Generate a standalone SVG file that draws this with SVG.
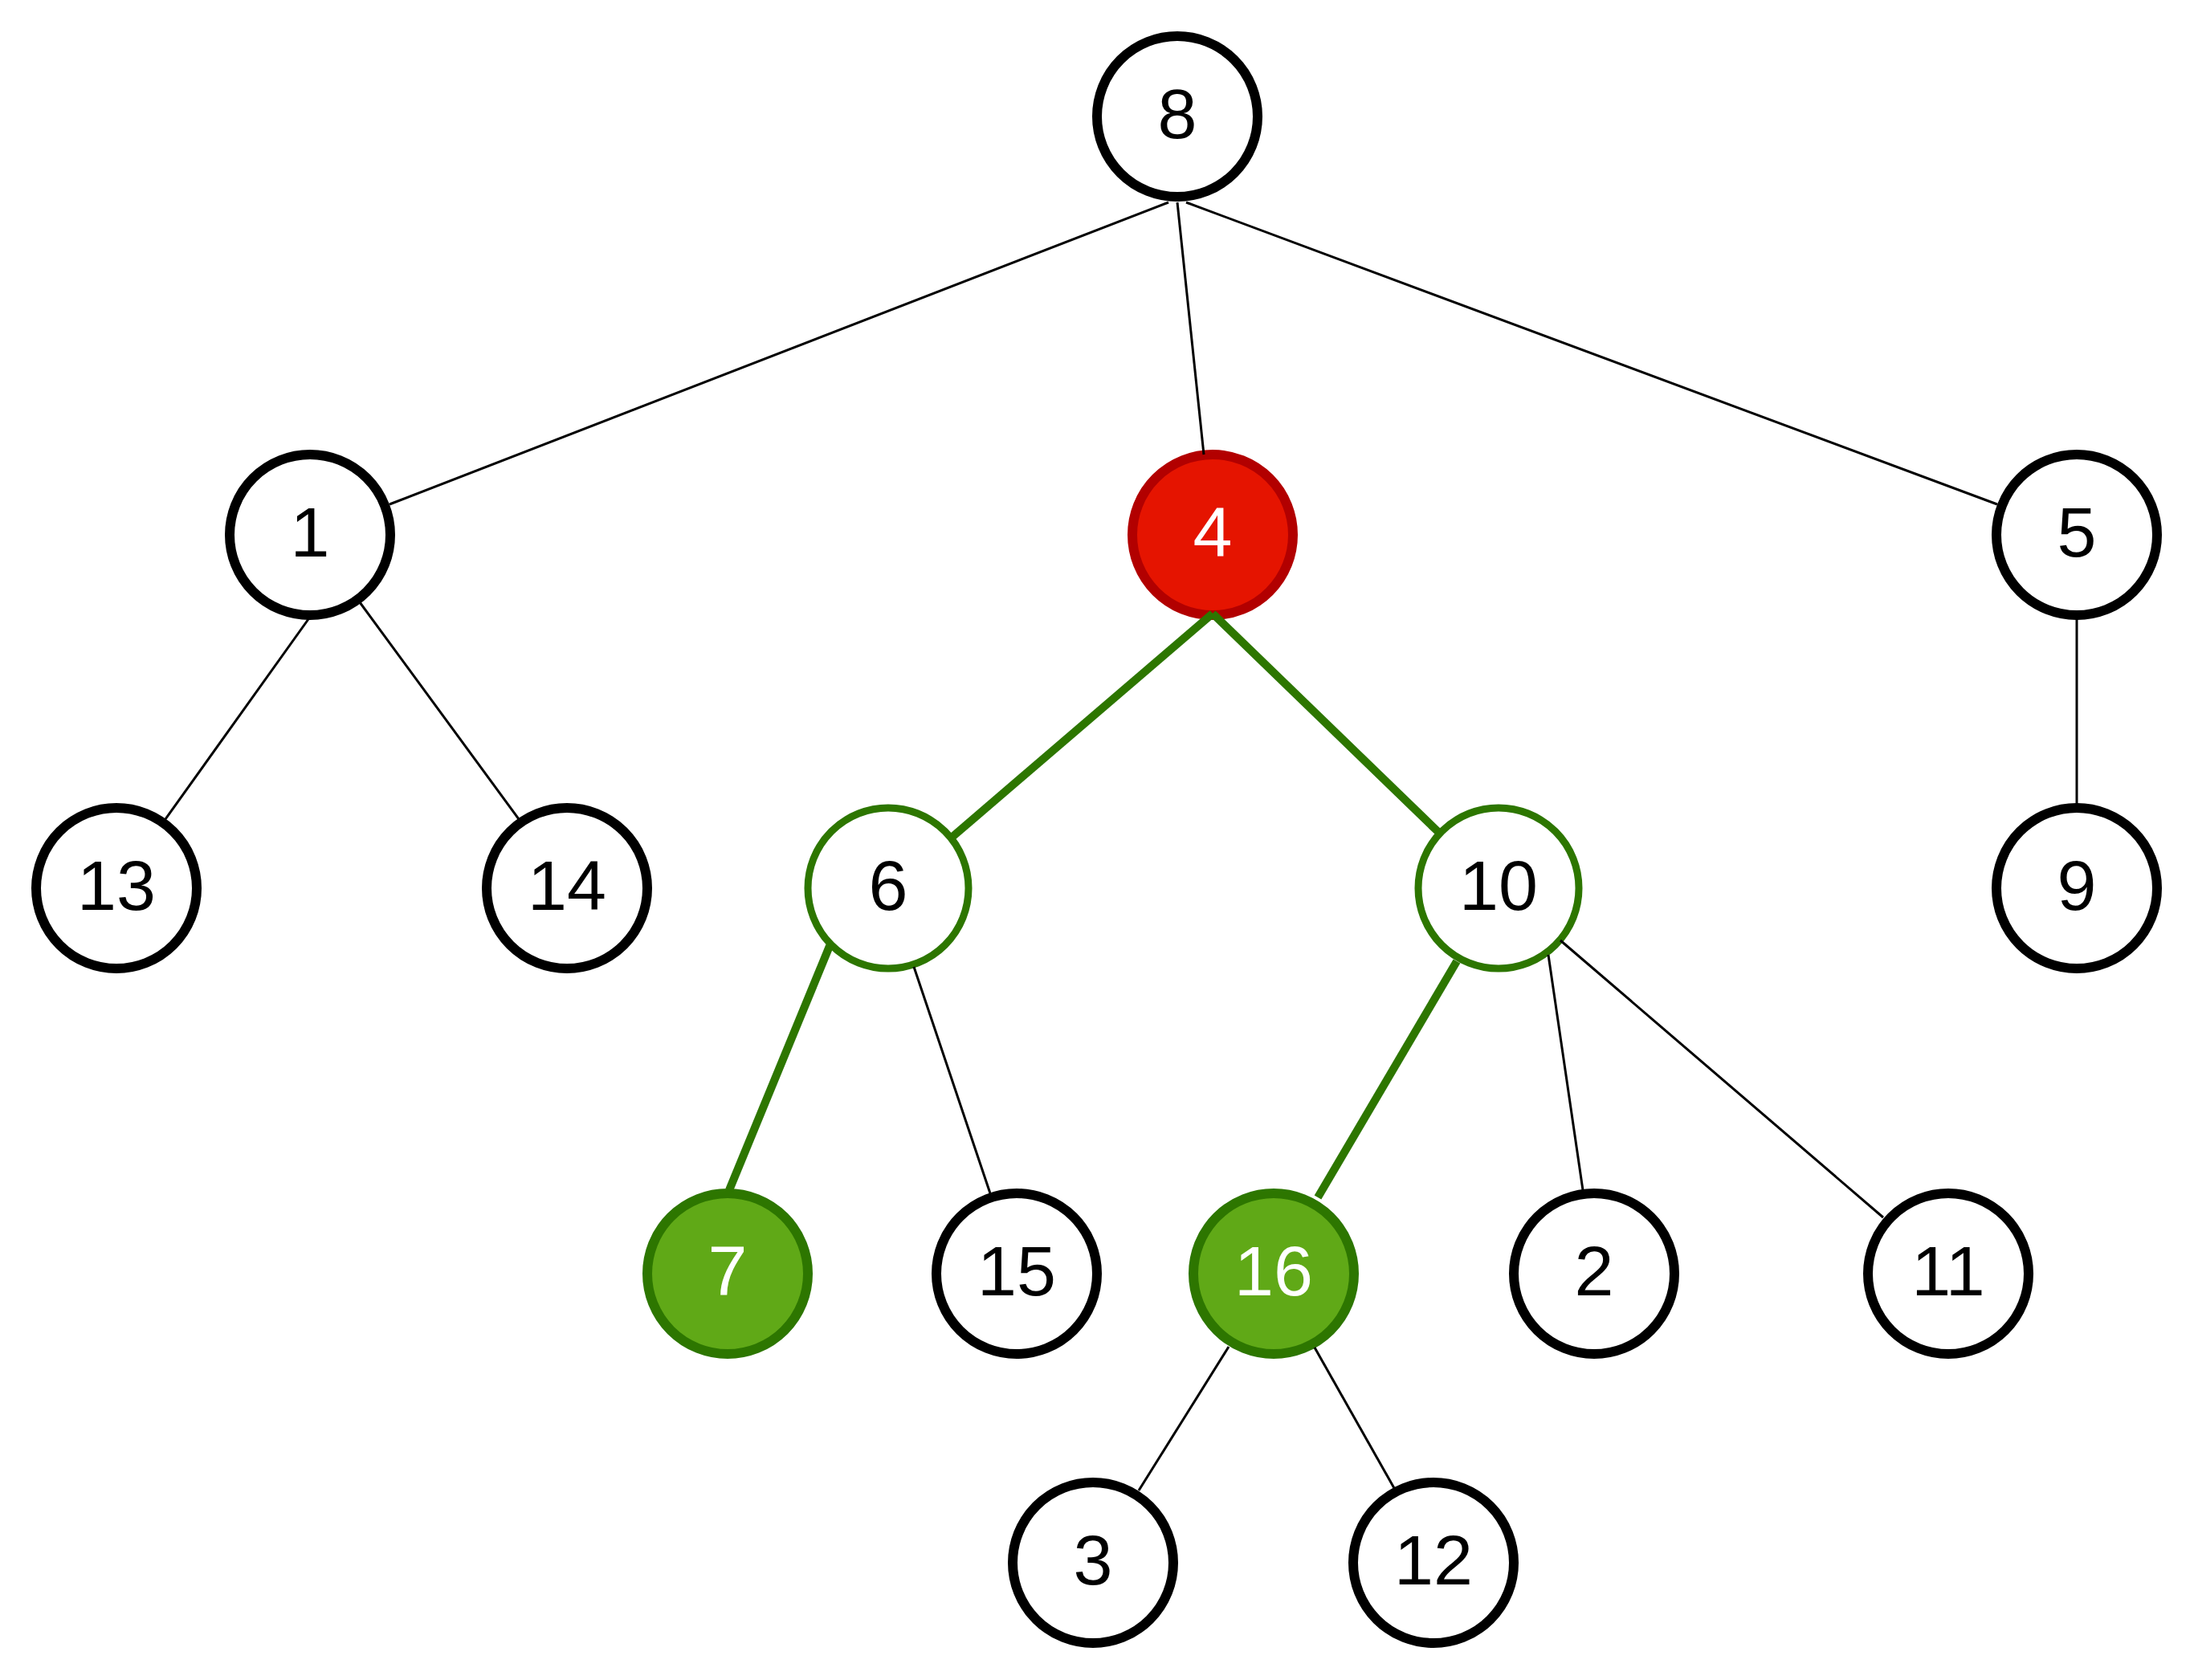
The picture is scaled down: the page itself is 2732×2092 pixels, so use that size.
<svg xmlns="http://www.w3.org/2000/svg" width="2732" height="2092" viewBox="0 0 2732 2092">
<style>
.e{stroke:#000;stroke-width:3;fill:none}
.g{stroke:#2d7600;stroke-width:10;fill:none}
.n circle{fill:#fff;stroke:#000;stroke-width:12}
.n text{font-family:"Liberation Sans",Arial,sans-serif;font-size:88px;text-anchor:middle;fill:#000}
.n.path circle{stroke:#2d7600;stroke-width:9}
.n.red circle{fill:#e51400;stroke:#b20000;stroke-width:12}
.n.grn circle{fill:#60a917;stroke:#2d7600;stroke-width:12}
.n.red text,.n.grn text{fill:#fff}
</style>
<rect width="2732" height="2092" fill="#fff"/>
<g id="n8" class="n"><circle cx="1466" cy="145" r="100"/><text x="1466" y="172">8</text></g>
<g id="n1" class="n"><circle cx="386" cy="666" r="100"/><text x="386" y="693">1</text></g>
<g id="n4" class="n red"><circle cx="1510" cy="666" r="100"/><text x="1510" y="693">4</text></g>
<g id="n5" class="n"><circle cx="2586" cy="666" r="100"/><text x="2586" y="693">5</text></g>
<g id="n13" class="n"><circle cx="145" cy="1106" r="100"/><text x="145" y="1133">13</text></g>
<g id="n14" class="n"><circle cx="706" cy="1106" r="100"/><text x="706" y="1133">14</text></g>
<g id="n6" class="n path"><circle cx="1106" cy="1106" r="100"/><text x="1106" y="1133">6</text></g>
<g id="n10" class="n path"><circle cx="1866" cy="1106" r="100"/><text x="1866" y="1133">10</text></g>
<g id="n9" class="n"><circle cx="2586" cy="1106" r="100"/><text x="2586" y="1133">9</text></g>
<g id="n7" class="n grn"><circle cx="906" cy="1586" r="100"/><text x="906" y="1613">7</text></g>
<g id="n15" class="n"><circle cx="1266" cy="1586" r="100"/><text x="1266" y="1613">15</text></g>
<g id="n16" class="n grn"><circle cx="1586" cy="1586" r="100"/><text x="1586" y="1613">16</text></g>
<g id="n2" class="n"><circle cx="1985" cy="1586" r="100"/><text x="1985" y="1613">2</text></g>
<g id="n11" class="n"><circle cx="2426" cy="1586" r="100"/><text x="2426" y="1613">11</text></g>
<g id="n3" class="n"><circle cx="1361" cy="1946" r="100"/><text x="1361" y="1973">3</text></g>
<g id="n12" class="n"><circle cx="1785" cy="1946" r="100"/><text x="1785" y="1973">12</text></g>
<g id="connectors">
<line class="e" x1="1455" y1="252" x2="485" y2="628"/>
<line class="e" x1="1466" y1="252" x2="1499" y2="566"/>
<line class="e" x1="1477" y1="252" x2="2487" y2="628"/>
<line class="g" x1="1510" y1="764" x2="1186" y2="1042"/>
<line class="g" x1="1510" y1="764" x2="1791" y2="1036"/>
<line class="e" x1="384" y1="771" x2="206" y2="1020"/>
<line class="e" x1="448" y1="750" x2="646" y2="1020"/>
<line class="e" x1="2586" y1="771" x2="2586" y2="1001"/>
<line class="g" x1="1033" y1="1178" x2="908" y2="1482"/>
<line class="e" x1="1138" y1="1204" x2="1233" y2="1486"/>
<line class="g" x1="1814" y1="1197" x2="1641" y2="1491"/>
<line class="e" x1="1928" y1="1189" x2="1971" y2="1482"/>
<line class="e" x1="1943" y1="1171" x2="2345" y2="1516"/>
<line class="e" x1="1530" y1="1677" x2="1418" y2="1856"/>
<line class="e" x1="1637" y1="1678" x2="1736" y2="1853"/>
</g>
</svg>
